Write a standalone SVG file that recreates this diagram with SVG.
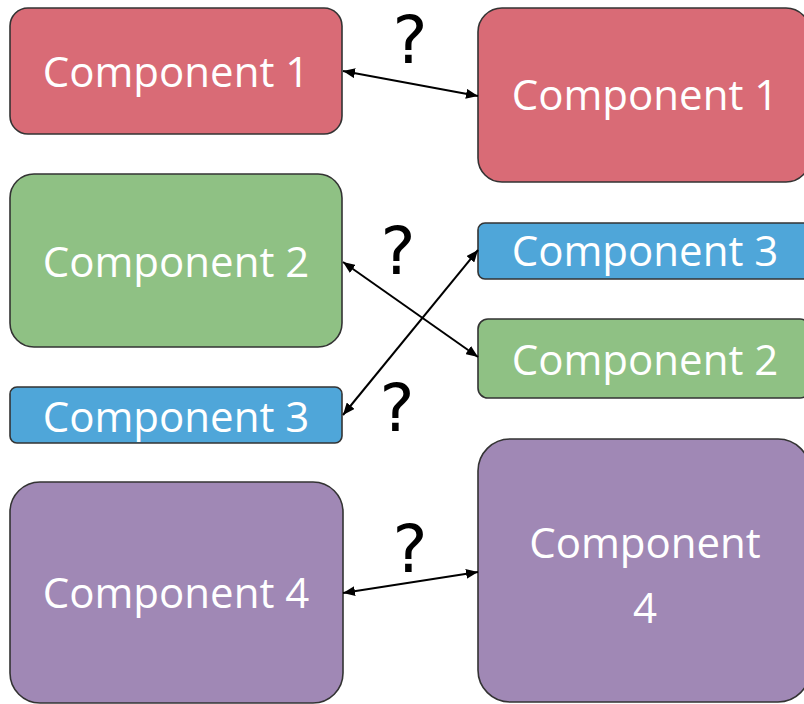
<svg xmlns="http://www.w3.org/2000/svg" width="804" height="704" viewBox="0 0 804 704">
<defs>
<marker id="ah" viewBox="0 0 12 10" refX="12" refY="5" markerWidth="12" markerHeight="10" markerUnits="userSpaceOnUse" orient="auto-start-reverse">
<path d="M0,0 L12,5 L0,10 Z" fill="#000"/>
</marker>
</defs>
<style>
.box{stroke:#333;stroke-width:1.6}
.red{fill:#D96B76}
.green{fill:#8FC184}
.blue{fill:#4FA6D9}
.purple{fill:#A088B5}
.lbl{font-family:"Open Sans","Liberation Sans",sans-serif;font-size:42px;fill:#fff;text-anchor:middle}
.q{font-family:"DejaVu Sans","Liberation Sans",sans-serif;font-size:66px;fill:#000;text-anchor:middle}
.conn{stroke:#000;stroke-width:2;fill:none;marker-start:url(#ah);marker-end:url(#ah)}
</style>
<rect width="804" height="704" fill="#fff"/>
<g id="c1-left"><rect class="box red" x="10" y="8" width="332" height="126" rx="18"/><text class="lbl" x="176" y="87">Component 1</text></g>
<g id="c1-right"><rect class="box red" x="478" y="8" width="332" height="174" rx="24"/><text class="lbl" x="645" y="110">Component 1</text></g>
<g id="c2-left"><rect class="box green" x="10" y="174" width="332" height="173" rx="24"/><text class="lbl" x="176" y="277">Component 2</text></g>
<g id="c3-left"><rect class="box blue" x="10" y="387" width="332" height="56" rx="7"/><text class="lbl" x="176" y="432">Component 3</text></g>
<g id="c3-right"><rect class="box blue" x="478" y="223" width="332" height="56" rx="7"/><text class="lbl" x="645" y="266">Component 3</text></g>
<g id="c2-right"><rect class="box green" x="478" y="319" width="332" height="79" rx="10"/><text class="lbl" x="645" y="375">Component 2</text></g>
<g id="c4-left"><rect class="box purple" x="10" y="482" width="333" height="221" rx="30"/><text class="lbl" x="176" y="608">Component 4</text></g>
<g id="c4-right"><rect class="box purple" x="478" y="439" width="332" height="263" rx="32"/><text class="lbl" x="645" y="558">Component</text><text class="lbl" x="645" y="623">4</text></g>
<g id="connectors">
<line class="conn" x1="343" y1="71" x2="478" y2="96"/>
<line class="conn" x1="343" y1="262" x2="478" y2="357"/>
<line class="conn" x1="343" y1="415" x2="478" y2="250"/>
<line class="conn" x1="343" y1="593" x2="478" y2="572"/>
<text class="q" x="410" y="63">?</text>
<text class="q" x="398" y="274">?</text>
<text class="q" x="397" y="431">?</text>
<text class="q" x="410" y="572">?</text>
</g>
</svg>
